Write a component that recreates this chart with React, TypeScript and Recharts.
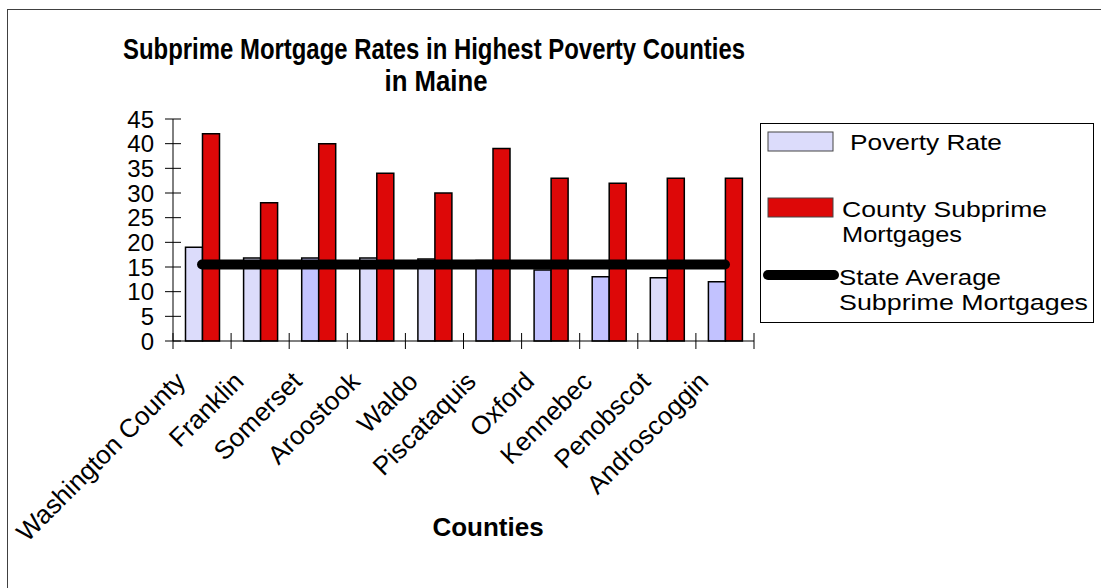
import React from "react";
import { ComposedChart, Bar, Line, XAxis, YAxis, Cell, Legend } from "recharts";

const counties = [
  "Washington County",
  "Franklin",
  "Somerset",
  "Aroostook",
  "Waldo",
  "Piscataquis",
  "Oxford",
  "Kennebec",
  "Penobscot",
  "Androscoggin",
];
const povertyRate = [19, 16.8, 16.8, 16.8, 16.6, 16.3, 14.4, 13, 12.8, 12];
const countySubprime = [42, 28, 40, 34, 30, 39, 33, 32, 33, 33];
const stateAverage = [15.5, 15.5, 15.5, 15.5, 15.5, 15.5, 15.5, 15.5, 15.5, 15.5];
const yTicks = [0, 5, 10, 15, 20, 25, 30, 35, 40, 45];

// the lavender bars come in two slightly different shades in the original
const povertyShades = ["#dcdcfb", "#dcdcfb", "#c2c2ff", "#dcdcfb", "#dcdcfb", "#c2c2ff", "#c2c2ff", "#c2c2ff", "#dcdcfb", "#c2c2ff"];

const data = counties.map((county, i) => ({
  county,
  poverty: povertyRate[i],
  subprime: countySubprime[i],
  state: stateAverage[i],
}));

const W = 1101;
const H = 588;
const PLOT_LEFT = 173;
const PLOT_RIGHT = 754;
const PLOT_TOP = 119;
const PLOT_BOTTOM = 341;
const Y_AXIS_W = 60;
const X_AXIS_H = 200;
const BAND = (PLOT_RIGHT - PLOT_LEFT) / counties.length;
const FONT = '"Liberation Sans", Arial, sans-serif';
const RED = "#dd0808";

const Y_TICK_SIZE = 8;
const Y_TICK_MARGIN = 11;
const X_TICK_SIZE = 8;
const X_TICK_MARGIN = 4;

const YTick = (props: any) => {
  const { x, y, payload } = props;
  const ax = x + Y_TICK_SIZE + Y_TICK_MARGIN;
  return (
    <g>
      <line x1={ax - 8} x2={ax + 8} y1={y} y2={y} stroke="#000" strokeWidth={1} />
      <text x={x} y={y} dy="0.36em" textAnchor="end" fontSize={24} fontFamily={FONT} fill="#000">
        {payload.value}
      </text>
    </g>
  );
};

const XTick = (props: any) => {
  const { x, y, payload } = props;
  const ay = y - X_TICK_SIZE - X_TICK_MARGIN;
  const left = x - BAND / 2;
  const isLast = payload.value === counties[counties.length - 1];
  const lx = x - 15;
  const ly = ay + 42;
  return (
    <g>
      <line x1={left} x2={left} y1={ay - 8} y2={ay + 8} stroke="#000" />
      {isLast && <line x1={left + BAND} x2={left + BAND} y1={ay - 8} y2={ay + 8} stroke="#000" />}
      <text
        x={lx}
        y={ly}
        transform={`rotate(-45 ${lx} ${ly})`}
        textAnchor="end"
        fontSize={26}
        fontFamily={FONT}
        fill="#000"
      >
        {payload.value}
      </text>
    </g>
  );
};

const legendText = (x: number, y: number, s: string, len: number) => (
  <text x={x} y={y} fontSize={21.5} fontFamily={FONT} fill="#000" textLength={len} lengthAdjust="spacingAndGlyphs">
    {s}
  </text>
);

const LegendBox = () => (
  <svg width={334} height={200} style={{ display: "block" }}>
    <rect x={0.5} y={0.5} width={333} height={199} fill="#fff" stroke="#000" />
    <rect x={8} y={9} width={65} height={19} fill="#dcdcfb" stroke="#444" />
    {legendText(90, 27, "Poverty Rate", 152)}
    <rect x={8} y={75} width={65} height={19} fill={RED} stroke="#444" />
    {legendText(82, 94, "County Subprime", 205)}
    {legendText(82, 119, "Mortgages", 120)}
    <line x1={8} x2={74} y1={152} y2={152} stroke="#000" strokeWidth={10} strokeLinecap="round" />
    {legendText(79, 162, "State Average", 162)}
    {legendText(79, 187, "Subprime Mortgages", 249)}
  </svg>
);

export default function App() {
  return (
    <div style={{ position: "absolute", left: 0, top: 0, width: W, height: H, background: "#fff" }}>
      <div
        style={{
          position: "absolute",
          left: 7,
          top: 9,
          width: W - 7,
          height: H - 9,
          borderLeft: "1px solid #404040",
          borderTop: "1px solid #404040",
          boxSizing: "border-box",
        }}
      />
      <ComposedChart
        width={W}
        height={H}
        data={data}
        barCategoryGap={12.5}
        barGap={0}
        margin={{
          top: PLOT_TOP,
          right: W - PLOT_RIGHT,
          left: PLOT_LEFT - Y_AXIS_W,
          bottom: H - PLOT_BOTTOM - X_AXIS_H,
        }}
      >
        <XAxis
          xAxisId="x"
          dataKey="county"
          height={X_AXIS_H}
          interval={0}
          tickLine={false}
          tickSize={X_TICK_SIZE}
          tickMargin={X_TICK_MARGIN}
          axisLine={{ stroke: "#000" }}
          tick={<XTick />}
        />
        <XAxis xAxisId="top" dataKey="county" orientation="top" height={0} tick={false} tickLine={false} axisLine={{ stroke: "#808080", strokeWidth: 1.5 }} />
        <YAxis
          yAxisId="y"
          width={Y_AXIS_W}
          domain={[0, 45]}
          ticks={yTicks}
          interval={0}
          tickLine={false}
          tickSize={Y_TICK_SIZE}
          tickMargin={Y_TICK_MARGIN}
          axisLine={{ stroke: "#000" }}
          tick={<YTick />}
        />
        <YAxis yAxisId="right" orientation="right" width={0} domain={[0, 45]} tick={false} tickLine={false} axisLine={{ stroke: "#808080", strokeWidth: 1.5 }} />
        <Legend
          layout="vertical"
          align="center"
          verticalAlign="middle"
          wrapperStyle={{ left: 760, top: 123, width: 334, height: 200 }}
          content={() => <LegendBox />}
        />
        <Bar xAxisId="x" yAxisId="y" dataKey="poverty" name="Poverty Rate" stroke="#000" strokeWidth={1.5} isAnimationActive={false}>
          {data.map((d, i) => (
            <Cell key={d.county} fill={povertyShades[i]} />
          ))}
        </Bar>
        <Bar xAxisId="x" yAxisId="y" dataKey="subprime" name="County Subprime Mortgages" fill={RED} stroke="#000" strokeWidth={1.5} isAnimationActive={false} />
        <Line
          xAxisId="x"
          yAxisId="y"
          dataKey="state"
          name="State Average Subprime Mortgages"
          stroke="#000"
          strokeWidth={10}
          strokeLinecap="round"
          dot={false}
          activeDot={false}
          isAnimationActive={false}
        />
      </ComposedChart>
      <svg width={W} height={H} style={{ position: "absolute", left: 0, top: 0, pointerEvents: "none" }}>
        <text x={434} y={59} textAnchor="middle" fontSize={30} fontWeight="bold" fontFamily={FONT} textLength={622} lengthAdjust="spacingAndGlyphs">
          Subprime Mortgage Rates in Highest Poverty Counties
        </text>
        <text x={436} y={91} textAnchor="middle" fontSize={30} fontWeight="bold" fontFamily={FONT} textLength={103} lengthAdjust="spacingAndGlyphs">
          in Maine
        </text>
        <text x={488} y={536} textAnchor="middle" fontSize={26} fontWeight="bold" fontFamily={FONT}>
          Counties
        </text>
      </svg>
    </div>
  );
}
